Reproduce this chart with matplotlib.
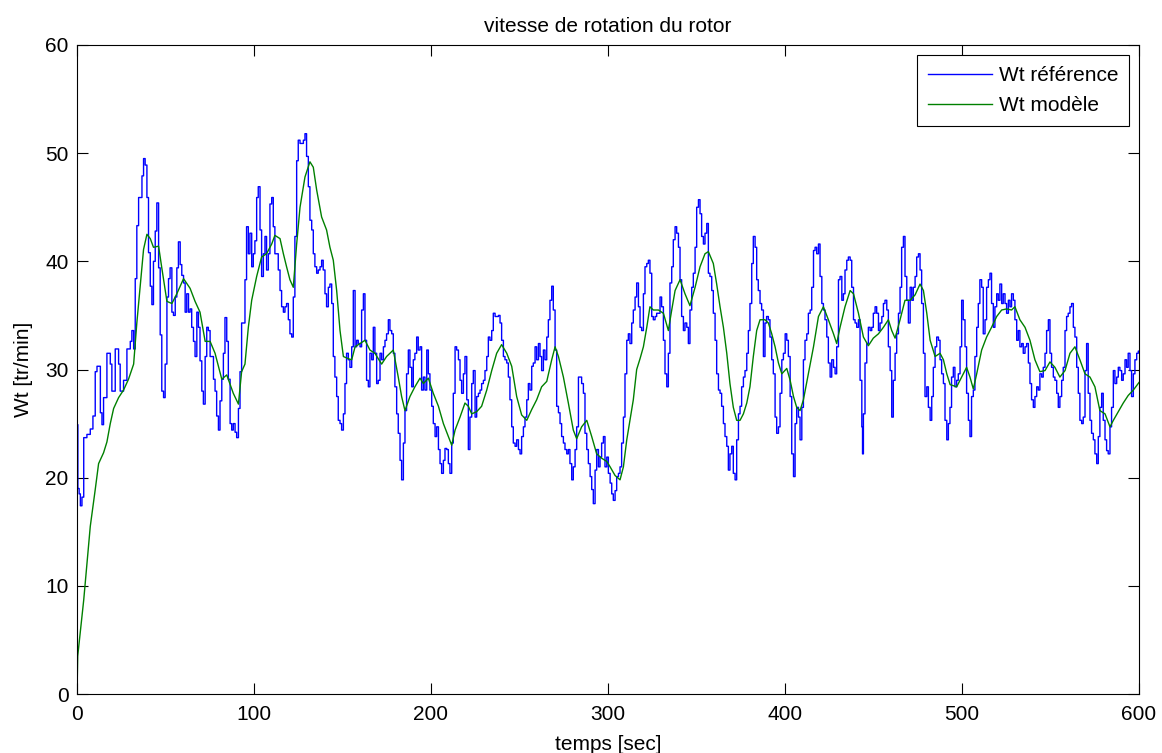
import matplotlib
matplotlib.use("Agg")
import matplotlib.pyplot as plt

# ---------------- data ----------------
title = "vitesse de rotation du rotor"
x_label = "temps [sec]"
y_label = "Wt [tr/min]"
label_ref = "Wt référence"
label_mod = "Wt modèle"
x_ticks = [0, 100, 200, 300, 400, 500, 600]
y_ticks = [0, 10, 20, 30, 40, 50, 60]

t_ref = [0, 0.5, 1.2, 1.9, 2.8, 3.8, 5.6, 7.5, 9.0, 10.3, 11.3, 13.2, 14.1, 15.0, 16.9, 18.8, 19.7, 21.6, 23.5, 24.4,
         26.3, 28.2, 30.1, 31.0, 32.0, 32.9, 33.8, 34.8, 36.7, 37.6, 38.5, 39.5, 40.4, 41.4, 42.3, 43.2, 44.2, 45.1, 46.1, 47.0,
         47.9, 48.9, 49.8, 50.8, 51.7, 52.6, 53.6, 54.5, 55.5, 56.4, 57.3, 58.3, 59.2, 60.2, 61.1, 62.0, 63.0, 63.9, 64.8, 65.8,
         66.7, 67.7, 68.6, 69.5, 70.5, 71.4, 72.4, 73.3, 74.2, 75.2, 77.1, 78.0, 78.9, 79.9, 80.8, 81.8, 82.7, 83.6, 84.6, 85.5,
         86.5, 87.4, 88.3, 89.3, 90.2, 91.2, 92.1, 93.0,
         94.9, 95.8, 96.8, 97.7, 98.7, 99.6, 100.5, 101.5, 102.4, 103.4, 104.3, 105.3, 106.2, 107.1, 108.1, 109.0, 110.0, 110.9,
         111.8, 112.8, 113.7, 114.7, 115.6, 116.6, 117.5, 118.4, 119.4, 120.3, 121.3, 122.2, 123.1, 124.1, 125.0, 126.0, 126.9,
         127.9, 128.8, 129.7, 130.7, 131.6, 132.6, 133.5, 134.4, 135.4, 136.3, 137.3, 138.2, 139.1, 140.1, 141.0, 142.0, 142.9,
         143.9, 144.8, 145.7, 146.7, 147.6, 148.6, 149.5, 150.5, 151.4, 152.3, 153.3, 154.2, 155.2, 156.1, 157.1, 158.0, 158.9,
         159.9, 160.8, 161.8, 162.7, 163.6, 164.6, 165.5, 166.5, 167.4, 168.3, 169.3, 170.2, 171.2, 172.1, 173.1, 174.0, 174.9,
         175.9, 176.8, 177.8, 178.7, 179.6, 180.6, 181.5, 182.5, 183.4, 184.4, 185.3, 186.2, 187.2, 188.1, 189.1, 190.0, 190.9,
         191.9, 192.8,
         193.8, 194.7, 195.7, 196.6, 197.6, 198.5, 199.4, 200.4, 201.3, 202.3, 203.2, 204.2, 205.1, 206.0, 207.0, 207.9, 208.9,
         209.8, 210.7, 211.7, 212.6, 213.6, 214.5, 215.5, 216.4, 217.3, 218.3, 219.2, 220.2, 221.1, 222.0, 223.0, 223.9, 224.9,
         225.8, 226.8, 227.7, 228.6, 229.6, 230.5, 231.5, 232.4, 233.3, 234.3, 235.2, 236.2, 237.1, 238.1, 239.0, 239.9, 240.9,
         241.8, 242.8, 243.7, 244.6, 245.6, 246.5, 247.5, 248.4, 249.4, 250.3, 251.2, 252.2, 253.1, 254.1, 255.0, 255.9, 256.9,
         257.8, 258.8, 259.7, 260.7, 261.6, 262.5, 263.5, 264.4, 265.4, 266.3, 267.2, 268.2, 269.1, 270.1, 271.0, 272.0, 272.9,
         273.8, 274.8, 275.7, 276.7, 277.6, 278.5, 279.5, 280.4, 281.4, 282.3, 283.3, 284.2, 285.1, 286.1, 287.0, 288.0, 288.9,
         289.9, 290.8, 291.7, 292.7, 293.6, 294.6,
         295.5, 296.4, 297.4, 298.3, 299.3, 300.2, 301.2, 302.1, 303.0, 304.0, 304.9, 305.9, 306.8, 307.7, 308.7, 309.6, 310.6,
         311.5, 312.4, 313.4, 314.3, 315.3, 316.2, 317.2, 318.1, 319.0, 320.0, 320.9, 321.9, 322.8, 323.7, 324.7, 325.6, 326.6,
         327.5, 328.5, 329.4, 330.3, 331.3, 332.2, 333.2, 334.1, 335.0, 336.0, 336.9, 337.9, 338.8, 339.8, 340.7, 341.6, 342.6,
         343.5, 344.5, 345.4, 346.3, 347.3, 348.2, 349.2, 350.1, 351.1, 352.0, 352.9, 353.9, 354.8, 355.8, 356.7, 357.6, 358.6,
         359.5, 360.5, 361.4, 362.4, 363.3, 364.2, 365.2, 366.1, 367.1, 368.0, 368.9, 369.9, 370.8, 371.8, 372.7, 373.7, 374.6,
         375.5, 376.5, 377.4, 378.4, 379.3, 380.2, 381.2, 382.1, 383.1, 384.0, 384.9, 385.9, 386.8, 387.8, 388.7, 389.6, 390.6,
         391.5, 392.5, 393.4,
         394.4, 395.3, 396.3, 397.2, 398.2, 399.1, 400.1, 401.0, 401.9, 402.9, 403.8, 404.8, 405.7, 406.6, 407.6, 408.5, 409.5,
         410.4, 411.3, 412.3, 413.2, 414.2, 415.1, 416.1, 417.0, 417.9, 418.9, 419.8, 420.8, 421.7, 422.6, 423.6, 424.5, 425.5,
         426.4, 427.4, 428.3, 429.2, 430.2, 431.1, 432.1, 433.0, 433.9, 434.9, 435.8, 436.8, 437.7, 438.7, 439.6, 440.5, 441.5,
         442.4, 443.4, 443.8, 444.3, 445.2, 446.2, 447.1, 448.1, 449.0, 449.9, 450.9, 451.8, 452.8, 453.7, 454.7, 455.6, 456.5,
         457.5, 458.4, 459.4, 460.3, 461.2, 462.2, 463.1, 464.1, 465.0, 465.9, 466.9, 467.8, 468.8, 469.7, 470.7, 471.6, 472.5,
         473.5, 474.4, 475.4, 476.3, 477.2, 478.2, 479.1, 480.1, 481.0, 482.0, 482.9, 483.8, 484.8, 485.7, 486.7, 487.6, 488.5,
         489.5, 490.4, 491.4, 492.3,
         493.2, 494.1, 495.1, 496.0, 497.0, 497.9, 498.9, 499.8, 500.7, 501.7, 502.6, 503.6, 504.5, 505.4, 506.4, 507.3, 508.3,
         509.2, 510.1, 511.1, 512.0, 513.0, 513.9, 514.9, 515.8, 516.7, 517.7, 518.6, 519.6, 520.5, 521.4, 522.4, 523.3, 524.3,
         525.2, 526.2, 527.1, 528.0, 529.0, 529.9, 530.9, 531.8, 532.7, 533.7, 534.6, 535.6, 536.5, 537.5, 538.4, 539.3, 540.3,
         541.2, 542.2, 543.1, 544.0, 545.0, 545.9, 546.9, 547.8, 548.8, 549.7, 550.6, 551.6, 552.5, 553.5, 554.4, 555.3, 556.3,
         557.2, 558.2, 559.1, 560.0, 561.0, 561.9, 562.9, 563.8, 564.8, 565.7, 566.6, 567.6, 568.5, 569.5, 570.4, 571.3, 572.3,
         573.2, 574.2, 575.1, 576.1, 577.0, 577.9, 578.9, 579.8, 580.8, 581.7, 582.6, 583.6, 584.5, 585.5, 586.4, 587.4, 588.3,
         589.2, 590.2, 591.1, 592.1, 593.0, 593.9, 594.9, 595.8, 596.8, 597.7, 598.7, 599.6, 600.0]

wt_ref = [24.9, 19.0, 18.5, 17.4, 18.2, 23.7, 24.0, 24.5, 25.7, 29.8, 30.3, 26.0, 24.9, 27.4, 31.5, 30.5, 28.0, 31.9, 30.5, 28.0,
          29.0, 31.9, 32.6, 33.6, 31.9, 38.4, 43.3, 45.9, 47.9, 49.5, 48.9, 45.9, 40.8, 37.7, 36.0, 40.0, 42.8, 45.4, 39.4, 33.2,
          28.0, 27.4, 30.5, 36.7, 38.4, 39.4, 35.3, 35.0, 36.7, 39.4, 41.8, 39.7, 38.7, 38.0, 35.3, 37.0, 35.3, 35.6, 33.9, 32.6,
          31.2, 35.3, 33.9, 30.8, 28.0, 26.8, 31.2, 33.9, 33.6, 31.2, 29.1, 28.0, 25.7, 24.4, 27.1, 29.1, 31.5, 34.8, 32.6, 29.1,
          25.0, 24.4, 25.0, 24.2, 23.7, 26.4, 29.8, 34.3,
          38.3, 43.2, 40.7, 42.6, 39.5, 40.7, 41.9, 45.9, 46.9, 42.9, 38.6, 40.7, 42.3, 39.2, 40.7, 45.3, 45.9, 43.2,
          40.7, 40.7, 39.2, 37.3, 35.8, 35.3, 35.8, 36.1, 34.6, 33.3, 33.0, 36.7, 42.3, 49.3, 51.2, 50.9, 50.9,
          51.2, 51.8, 49.7, 46.9, 43.8, 42.9, 40.7, 39.5, 38.9, 39.2, 39.5, 40.1, 39.2, 37.0, 35.8, 37.6, 37.9,
          36.1, 31.2, 29.3, 27.5, 25.3, 25.0, 24.4, 25.9, 28.7, 31.5, 30.9, 30.2, 32.1, 37.3, 32.1, 32.7, 32.4,
          32.1, 35.5, 37.0, 32.7, 29.0, 28.4, 31.5, 30.9, 33.9, 31.5, 28.7, 29.0, 31.5, 30.9, 32.1, 32.7, 33.3,
          34.6, 33.6, 33.3, 31.5, 28.4, 25.9, 24.1, 21.6, 19.8, 23.2, 26.2, 29.6, 31.8, 30.2, 28.4, 30.9, 31.5,
          33.0, 31.8,
          32.1, 28.1, 29.3, 28.1, 31.8, 29.6, 28.1, 26.6, 25.0, 23.8, 24.7, 22.6, 21.3, 20.4, 21.6, 22.7, 22.6,
          21.3, 20.4, 23.2, 27.8, 32.1, 31.8, 30.9, 29.0, 27.8, 29.6, 31.2, 27.2, 22.6, 25.6, 28.7, 29.9, 25.6,
          27.5, 27.8, 28.1, 28.7, 29.0, 29.9, 31.2, 33.0, 32.7, 33.6, 35.2, 34.9, 34.9, 35.0, 34.3, 32.7, 31.2,
          30.9, 30.6, 29.3, 27.2, 24.7, 23.2, 22.9, 23.5, 22.6, 22.2, 23.8, 24.7, 25.6, 27.2, 28.7, 28.1, 30.3,
          30.6, 32.1, 30.9, 32.4, 31.2, 29.9, 31.8, 30.9, 33.0, 34.6, 36.4, 37.7, 35.5, 31.8, 26.6, 26.0, 25.0,
          23.8, 23.2, 22.6, 22.2, 22.6, 21.3, 19.8, 21.0, 22.6, 24.7, 29.3, 29.3, 28.7, 27.8, 24.1, 22.6, 21.3,
          20.1, 18.9, 17.6, 20.7, 22.6, 21.0,
          21.9, 23.2, 23.8, 21.0, 21.9, 20.4, 19.5, 18.5, 17.9, 18.8, 20.1, 20.4, 21.0, 23.2, 25.6, 29.6, 32.7,
          33.3, 32.4, 34.3, 35.5, 36.7, 38.0, 35.8, 33.9, 33.6, 37.0, 39.5, 39.8, 40.1, 38.9, 34.9, 34.6, 34.9,
          35.2, 35.2, 36.7, 35.8, 32.7, 29.6, 28.4, 31.5, 38.0, 39.5, 42.0, 43.2, 42.6, 41.3, 38.3, 34.9, 33.6,
          34.3, 33.9, 32.4, 35.5, 37.6, 38.9, 41.3, 45.0, 45.7, 44.4, 42.3, 41.6, 42.6, 43.5, 38.9, 38.6, 37.3,
          35.2, 32.7, 29.6, 28.1, 27.8, 26.6, 25.0, 23.8, 22.9, 20.7, 22.2, 22.9, 20.4, 19.8, 23.5, 25.9, 26.6,
          28.4, 29.3, 29.9, 31.5, 33.6, 36.1, 39.8, 42.3, 41.3, 38.3, 37.3, 36.1, 35.5, 31.2, 34.3, 34.9, 34.6,
          33.0, 30.9, 29.6,
          25.6, 24.1, 24.7, 27.8, 30.9, 31.5, 33.3, 32.7, 31.2, 27.5, 22.2, 20.1, 25.0, 26.5, 25.6, 23.5, 26.5,
          30.9, 32.7, 33.3, 35.2, 35.5, 37.6, 41.0, 41.3, 40.7, 41.6, 38.6, 36.1, 35.5, 34.6, 33.0, 30.6, 29.3,
          30.9, 30.2, 29.6, 32.1, 38.3, 38.6, 36.4, 37.0, 39.2, 40.1, 40.4, 40.1, 37.6, 34.6, 34.3, 33.9, 34.6,
          29.0, 24.7, 22.2, 25.9, 30.6, 32.4, 33.9, 33.6, 33.9, 35.2, 35.8, 35.2, 33.6, 34.3, 34.9, 36.1, 36.4,
          35.5, 32.1, 29.9, 25.6, 29.0, 31.5, 33.3, 35.2, 37.6, 41.3, 42.3, 38.6, 36.4, 34.3, 37.6, 36.4, 37.6,
          38.6, 40.4, 40.7, 39.2, 36.1, 31.5, 27.5, 28.4, 26.5, 25.3, 27.5, 30.2, 32.1, 33.0, 32.7, 30.9, 29.6,
          28.7, 25.3, 23.5, 25.0,
          26.5, 29.3, 30.2, 28.4, 29.0, 29.6, 32.1, 36.4, 34.6, 32.1, 27.8, 25.3, 23.8, 27.5, 28.1, 31.2, 33.9,
          36.1, 38.3, 37.6, 33.3, 34.6, 37.6, 38.3, 38.9, 36.1, 33.9, 35.8, 37.0, 36.4, 37.9, 36.1, 37.0, 36.1,
          35.2, 36.4, 35.8, 37.0, 36.4, 34.6, 32.7, 33.6, 32.1, 32.4, 31.5, 32.1, 32.4, 30.6, 28.7, 27.2, 26.5,
          27.5, 28.4, 28.1, 29.6, 29.3, 30.2, 31.5, 33.6, 34.6, 31.5, 30.2, 29.3, 29.0, 27.8, 26.5, 27.5, 29.0,
          30.2, 33.6, 34.9, 35.2, 35.8, 36.1, 33.9, 33.0, 30.2, 27.8, 25.3, 25.0, 25.6, 29.9, 32.4, 27.8, 25.3,
          24.1, 23.5, 22.2, 21.3, 23.8, 26.5, 27.8, 25.3, 23.5, 22.5, 22.2, 24.7, 26.5, 29.9, 28.7, 29.3, 30.2,
          29.9, 29.0, 29.6, 30.9, 30.2, 31.5, 29.9, 27.5, 29.6, 30.9, 31.5, 31.7, 31.7]

t_mod = [0, 0.4, 3.8, 7.5, 10.3, 12.2, 15.0, 16.9, 18.8, 20.7, 23.5, 26.3, 29.1, 32.0, 33.8, 35.7, 37.6, 39.5, 41.4, 43.2,
         46.1, 47.9, 50.8, 53.6, 56.4, 60.2, 63.9, 66.7, 69.5, 72.4, 75.2, 78.0, 81.8, 84.6, 88.3, 91.2, 93.0, 94.9, 96.8, 98.7,
         101.5, 104.3, 107.1, 110.0, 111.8, 114.7, 116.6, 118.4, 120.3, 122.2, 124.1, 126.0, 128.8, 131.6, 133.5, 135.4, 138.2,
         141.0, 142.9, 144.8, 146.7, 148.6, 150.5, 153.3, 155.2, 157.1, 159.9, 162.7, 165.5, 168.3, 172.1, 174.9, 178.7, 181.5,
         183.4, 185.3, 188.1, 190.9, 193.8, 195.7, 198.5, 201.3, 204.2, 207.0, 209.8, 211.7, 213.6, 216.4, 219.2, 221.1, 223.0,
         225.8, 228.6, 231.5, 234.3, 237.1, 239.9, 242.8, 245.6, 248.4, 251.2, 254.1, 256.9, 259.7, 262.5, 265.4, 268.2, 270.1,
         272.0, 274.8, 277.6, 280.4, 282.3, 285.1, 288.0, 290.8, 293.6, 296.4, 299.3, 301.2, 304.0, 306.8, 308.7, 310.6, 312.4,
         314.3, 316.2, 318.1, 320.0, 321.9, 323.7, 325.6, 328.5, 331.3, 334.1, 336.0, 337.9, 340.7, 343.5, 346.3, 349.2, 352.0,
         354.8, 356.7, 359.5, 361.4, 363.3, 365.2, 367.1, 368.9, 370.8, 372.7, 374.6, 376.5, 378.4, 380.2, 382.1, 384.0, 385.9,
         388.7, 390.6, 392.5, 394.4, 396.3, 398.2, 401.0, 402.9, 404.8, 406.6, 408.5, 410.4, 413.2, 416.1, 418.9, 421.7, 424.5,
         427.4, 429.2, 431.1, 433.9, 436.8, 438.7, 441.5, 444.3, 447.1, 449.9, 452.8, 455.6, 458.4, 460.3, 462.2, 465.0, 467.8,
         470.7, 473.5, 476.3, 478.2, 480.1, 482.0, 484.8, 487.6, 489.5, 491.4, 493.3, 497.0, 499.8, 502.6, 504.5, 506.4, 508.3,
         511.1, 513.9, 516.7, 519.6, 522.4, 525.2, 528.0, 529.9, 532.7, 535.6, 538.4, 541.2, 544.0, 546.9, 549.7, 552.5, 555.3,
         558.2, 561.0, 563.8, 566.6, 569.5, 572.3, 575.1, 577.9, 580.8, 583.6, 585.5, 588.3, 591.1, 593.9, 596.8, 599.6, 600.0]

wt_mod = [0.0, 3.5, 8.7, 15.5, 18.9, 21.3, 22.3, 23.3, 25.0, 26.4, 27.4, 28.1, 29.1, 30.5, 34.3, 37.7, 41.1, 42.5, 42.1, 41.3,
          41.4, 39.4, 36.3, 36.1, 37.0, 38.4, 37.5, 36.3, 35.3, 32.6, 32.6, 31.5, 29.1, 29.5, 27.8, 26.8, 29.8, 30.5, 33.9, 36.4,
          38.6, 40.4, 40.7, 41.6, 42.4, 42.1, 40.7, 39.5, 38.3, 37.6, 41.6, 45.0, 47.8, 49.2, 48.7, 46.6, 44.1,
          42.9, 41.3, 40.1, 37.3, 33.6, 31.2, 31.0, 30.9, 32.1, 32.4, 32.7, 31.8, 31.5, 30.5, 31.2, 31.8, 29.3,
          27.5, 26.2, 27.5, 28.4, 29.2, 28.7, 29.2, 27.8, 26.6, 25.0, 23.8, 23.0, 24.4, 25.6, 26.9, 26.6, 25.9,
          26.1, 26.6, 28.1, 29.9, 31.5, 32.3, 31.5, 30.3, 27.5, 25.8, 25.3, 26.3, 27.2, 28.4, 28.9, 30.9, 32.1,
          31.2, 29.3, 26.9, 24.4, 23.6, 24.7, 25.3, 23.8, 22.2, 21.8, 21.5, 21.0, 20.2, 19.8, 21.0, 23.5, 25.3,
          27.2, 30.0, 31.0, 32.1, 33.9, 35.8, 35.5, 35.5, 35.2, 33.6, 35.5, 37.3, 38.3, 37.0, 35.9, 37.6, 39.5,
          40.7, 40.9, 39.8, 37.9, 35.8, 33.9, 31.5, 28.7, 26.5, 25.3, 25.3, 25.9, 26.9, 28.4, 31.2, 33.6, 34.6,
          34.6, 34.3, 33.3, 32.1, 30.6, 29.6, 30.1, 29.0, 27.5, 26.5, 26.2, 27.2, 29.6, 32.1, 34.9, 35.8, 34.6,
          33.3, 32.4, 33.9, 35.8, 37.3, 37.0, 35.2, 33.0, 32.2, 32.9, 33.3, 33.9, 34.6, 33.6, 32.9, 34.6, 36.4,
          36.4, 36.9, 37.9, 37.3, 35.2, 32.7, 31.2, 31.5, 30.9, 29.6, 28.6, 28.4, 29.3, 30.2, 29.3, 28.2, 29.6,
          31.8, 33.0, 33.9, 34.9, 35.5, 35.6, 35.5, 35.8, 34.6, 33.9, 32.7, 30.9, 29.8, 29.9, 30.7, 30.2, 29.3,
          29.9, 31.5, 32.1, 30.9, 29.6, 29.3, 28.4, 26.2, 25.9, 24.7, 25.3, 26.1, 26.9, 27.6, 28.1, 28.7, 28.8]

# ---------------- figure ----------------
plt.rcParams["font.family"] = ["Liberation Sans", "DejaVu Sans"]
W, H = 1162, 753
fig = plt.figure(figsize=(W / 100, H / 100), dpi=100)
fig.patch.set_facecolor("white")
ax = fig.add_axes([77 / W, (H - 694) / H, (1139 - 77) / W, (694 - 45) / H])

ax.plot(t_ref, wt_ref, color="#0000ff", lw=1.0, drawstyle="steps-post", label=label_ref)
ax.plot(t_mod, wt_mod, color="#008000", lw=1.0, label=label_mod)

ax.set_xlim(0, 600)
ax.set_ylim(0, 60)
ax.set_xticks(x_ticks)
ax.set_yticks(y_ticks)
fs = 15
ax.tick_params(direction="in", length=8, width=0.8, top=True, right=True,
               labelsize=fs, colors="black", pad=6)
ax.tick_params(axis="x", pad=8)
for s in ax.spines.values():
    s.set_linewidth(0.8)
    s.set_color("black")

ax.set_title(title, fontsize=fs, pad=9)
ax.set_xlabel(x_label, fontsize=fs, labelpad=8)
ax.set_ylabel(y_label, fontsize=fs, labelpad=9)

leg = ax.legend(loc="upper right", fancybox=False, edgecolor="black", framealpha=1,
                fontsize=fs, handlelength=3.1, handletextpad=0.3, borderpad=0.5,
                labelspacing=0.55, borderaxespad=0.5)
leg.get_frame().set_linewidth(0.8)

fig.savefig("out.png", dpi=100)
